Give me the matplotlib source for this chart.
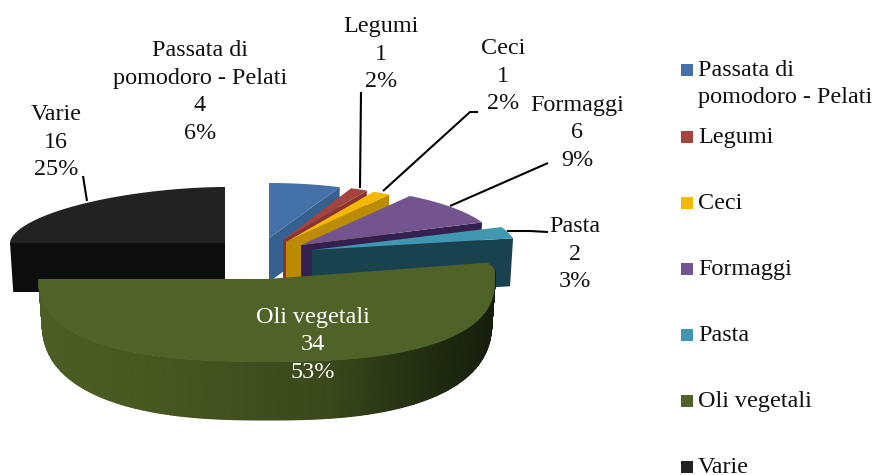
import numpy as np
import matplotlib
matplotlib.use('Agg')
import matplotlib.pyplot as plt
from matplotlib.patches import Rectangle

# Chart data
names = ['Passata di\npomodoro - Pelati', 'Legumi', 'Ceci', 'Formaggi', 'Pasta', 'Oli vegetali', 'Varie']
values = [4, 1, 1, 6, 2, 34, 16]

# Colours: top face, radial side face
top_colors = ['#4472A8', '#A5433F', '#F5B800', '#74548F', '#3F98B0', '#4F6228', '#222222']
side_colors = ['#35608F', '#8C3230', '#BC8C00', '#33204F', '#1A414E', '#4A5C24', '#0D0D0D']

# Exploded slice geometry in pixels: cx, cy, rx, ry, depth
geom = [
    (269, 238, 185, 55, 44),
    (283, 240, 178, 56, 44),
    (286, 242, 186, 57, 44),
    (301, 245, 196, 59, 44),
    (312, 250, 205, 60, 48),
    (267, 279, 228, 83, 58),
    (225, 243, 215, 56, 49),
]
squareness = [2, 2, 2, 2, 2, 2.5, 1.8]

# Label centre positions in pixels
label_pos = [(200, 92), (381, 54), (503, 76), (577, 133), (575, 254), (313, 345), (56, 142)]
label_color = ['#111111'] * 5 + ['white', '#111111']

leaders = [
    ([361, 360], [92, 188]),
    ([478, 470, 383], [112, 112, 191]),
    ([548, 450], [163, 206]),
    ([548, 530, 507], [232, 231, 231]),
    ([83, 87], [176, 201]),
]

legend_y = [70, 137, 203, 269, 335, 401, 467]
FONT = 'Liberation Serif'
FS = 17.4

fig = plt.figure(figsize=(8.74, 4.75), dpi=100)
ax = fig.add_axes([0, 0, 1, 1])
ax.set_xlim(0, 874)
ax.set_ylim(475, 0)
ax.axis('off')

# Slice angles clockwise from the top
total = sum(values)
edges = np.cumsum([0] + values) / total * 360


def arc(theta, g, n):
    t = np.radians(theta)
    s, c = np.sin(t), np.cos(t)
    r = (np.abs(s) ** n + np.abs(c) ** n) ** (-1 / n)
    return g[0] + g[2] * r * s, g[1] - g[3] * r * c


def down(x, y, g, k=0.985):
    # bottom of the extrusion, slightly narrower for the perspective
    return g[0] + (x - g[0]) * k, y + g[4]


def draw_flat_slice(i):
    g, n = geom[i], squareness[i]
    x, y = arc(np.linspace(edges[i], edges[i + 1], 200), g, n)
    # Varie shows its starting edge, the others their closing edge
    ex, ey = (x[0], y[0]) if i == 6 else (x[-1], y[-1])
    bx, by = down(ex, ey, g)
    ax0, ay0 = down(g[0], g[1], g)
    ax.fill([g[0], ex, bx, ax0], [g[1], ey, by, ay0], color=side_colors[i], lw=0)
    ax.fill(np.r_[g[0], x], np.r_[g[1], y], color=top_colors[i], lw=0)


def draw_oil_slice(i):
    g, n = geom[i], squareness[i]
    bot = (g[0], 318, 225, 102)
    th = np.linspace(edges[i] + 4, edges[i + 1], 240)
    x, y = arc(th, g, n)
    bx, by = arc(th, bot, n)
    # outer wall, shaded from left to right
    stops_x = [40, 170, 330, 430, 495]
    stops = np.array([[76, 94, 36], [70, 86, 32], [58, 72, 27], [34, 44, 17], [22, 30, 12]]) / 255
    cols = np.stack([np.interp(x, stops_x, stops[:, j]) for j in range(3)], axis=-1)
    ax.pcolormesh(np.stack([x, bx]), np.stack([y, by]), np.stack([cols, cols]), shading='gouraud')
    # rounded corner on the right of the top face
    cx_, cy_ = arc(edges[i], g, n)
    cx_ = g[0] + (cx_ - g[0]) * 0.975
    ax.fill(np.r_[g[0], cx_, x], np.r_[g[1], cy_, y], color=top_colors[i], lw=0)


for i in [6, 0, 1, 2, 3, 4]:
    draw_flat_slice(i)
draw_oil_slice(5)

for lx, ly in leaders:
    ax.plot(lx, ly, color='black', lw=1.5, solid_capstyle='butt')

# Data labels
for i, (px, py) in enumerate(label_pos):
    pct = round(values[i] / total * 100)
    ax.text(px, py, f'{names[i]}\n{values[i]}\n{pct}%', ha='center', va='center',
            family=FONT, fontsize=FS, color=label_color[i], linespacing=1.42)

# Legend
for i, ly in enumerate(legend_y):
    ax.add_patch(Rectangle((681, ly - 6), 12, 12, color=top_colors[i], lw=0))
    for k, line in enumerate(names[i].split('\n')):
        ax.text(698, ly + 6 + 27 * k, line, ha='left', va='baseline', family=FONT,
                fontsize=FS, color='#111111')

fig.savefig('out.png', dpi=100)
